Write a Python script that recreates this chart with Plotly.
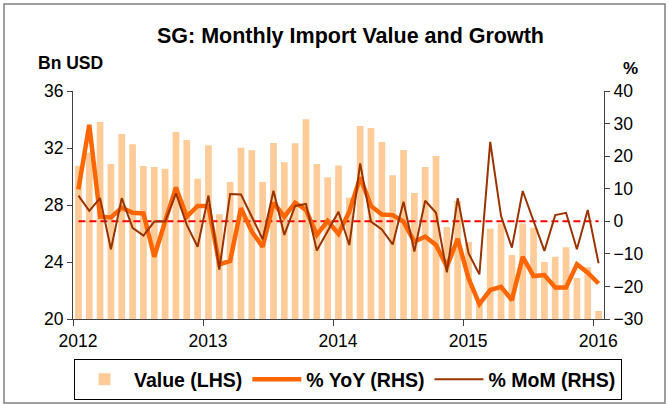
import plotly.graph_objects as go

# ---- data ----
year_labels = ["2012", "2013", "2014", "2015", "2016"]

values = [30.76, 31.67, 33.82, 30.88, 32.98, 32.26, 30.74, 30.67, 30.55, 33.12, 32.56, 29.85,
          32.19, 27.35, 29.61, 32.02, 31.84, 29.61, 32.35, 31.00, 32.33, 34.01, 30.88, 29.94,
          30.78, 28.51, 33.54, 33.40, 32.42, 30.08, 31.86, 28.84, 30.67, 31.44, 26.46, 28.28,
          25.40, 21.40, 26.34, 26.70, 24.49, 26.71, 26.41, 24.00, 24.37, 25.03, 22.88, 23.63,
          20.56]

yoy = [9.8, 29.6, 1.4, 1.2, 4.2, 2.6, 2.4, -10.9, 0.0, 10.4, 1.4, 4.7,
       4.7, -13.2, -12.2, 4.0, -3.2, -7.8, 5.7, 1.4, 5.7, 3.5, -4.2, 0.1,
       -3.9, 3.0, 13.5, 4.7, 2.1, 1.9, -0.1, -6.3, -4.7, -7.3, -13.9, -5.4,
       -17.5, -25.4, -21.1, -20.1, -24.2, -10.9, -16.8, -16.5, -20.3, -20.3, -13.2, -15.8,
       -19.1]

mom = [7.9, 3.2, 7.1, -8.6, 7.1, -2.0, -4.4, -0.1, -0.1, 8.6, -1.1, -7.8,
       7.9, -14.8, 8.4, 8.2, 1.4, -5.5, 9.4, -4.2, 4.7, 5.3, -9.0, -3.2,
       2.9, -7.3, 17.8, -0.1, -2.5, -7.1, 6.0, -9.3, 6.3, 2.6, -15.7, 7.1,
       -9.8, -16.3, 24.4, 1.6, -8.1, 9.3, 0.0, -9.1, 1.9, 2.6, -8.6, 3.5,
       -12.9]

n = len(values)
xpos = [i + 0.5 for i in range(n)]          # month centres
year_ticks = [12 * k for k in range(len(year_labels))]

FONT = "Liberation Sans, Arial, sans-serif"
AXIS_COL = "#404040"

fig = go.Figure()
fig.add_trace(go.Bar(x=xpos, y=values, name="Value (LHS)", width=0.62,
                     marker=dict(color="#FFCC99", line=dict(width=0))))
fig.add_trace(go.Scatter(x=[xpos[0], xpos[-1]], y=[0, 0], yaxis="y2", mode="lines",
                         line=dict(color="#FF0000", width=2, dash="7px,4px"),
                         showlegend=False, hoverinfo="skip"))
fig.add_trace(go.Scatter(x=xpos, y=yoy, yaxis="y2", mode="lines", name="% YoY (RHS)",
                         line=dict(color="#FF6600", width=4.5)))
fig.add_trace(go.Scatter(x=xpos, y=mom, yaxis="y2", mode="lines", name="% MoM (RHS)",
                         line=dict(color="#993300", width=2)))

tickfont = dict(family=FONT, size=17.5, color="black")

fig.update_layout(
    width=669, height=404, autosize=False,
    margin=dict(l=73, r=65, t=91, b=85, autoexpand=False),
    paper_bgcolor="white", plot_bgcolor="white",
    font=dict(family=FONT, color="black", size=17),
    title=dict(text="<b>SG: Monthly Import Value and Growth</b>",
               font=dict(family=FONT, size=21.5, color="black"),
               x=(350.5 - 73) / 531, xref="paper", xanchor="center",
               y=1 - 35 / 404, yref="container", yanchor="middle"),
    xaxis=dict(range=[0, n], tickvals=year_ticks, ticktext=year_labels,
               showline=True, linecolor=AXIS_COL, linewidth=1,
               ticks="outside", ticklen=6, tickcolor=AXIS_COL,
               ticklabelshift=5, showgrid=False, zeroline=False,
               automargin=False, tickfont=tickfont),
    yaxis=dict(range=[20, 36], tickvals=[20, 24, 28, 32, 36],
               showline=True, linecolor=AXIS_COL, linewidth=1,
               ticks="outside", ticklen=5, tickcolor=AXIS_COL,
               showgrid=False, zeroline=False, automargin=False,
               tickfont=tickfont),
    yaxis2=dict(range=[-30, 40], tickvals=[-30, -20, -10, 0, 10, 20, 30, 40],
                overlaying="y", side="right",
                showline=True, linecolor=AXIS_COL, linewidth=1,
                ticks="outside", ticklen=5, tickcolor=AXIS_COL,
                showgrid=False, zeroline=False, automargin=False,
                tickfont=tickfont),
    legend=dict(orientation="h", x=(622 - 73) / 531, xanchor="right",
                y=(319 - 359) / 228, yanchor="top",
                bordercolor="black", borderwidth=1, bgcolor="white",
                font=dict(family=FONT, size=19.5, color="black", weight="bold"),
                itemwidth=49, traceorder="normal"),
    annotations=[
        dict(text="<b>Bn USD</b>", xref="paper", yref="paper",
             x=(36 - 73) / 531, y=(319 - 63) / 228, xanchor="left", yanchor="middle",
             showarrow=False, font=dict(family=FONT, size=17.5, color="black")),
        dict(text="<b>%</b>", xref="paper", yref="paper",
             x=(621 - 73) / 531, y=(319 - 68) / 228, xanchor="left", yanchor="middle",
             showarrow=False, font=dict(family=FONT, size=17, color="black")),
    ],
    shapes=[
        dict(type="rect", xref="paper", yref="paper",
             x0=(4 - 73) / 531, x1=(665 - 73) / 531,
             y0=(319 - 403) / 228, y1=(319 - 4) / 228,
             line=dict(color="#808080", width=1.5), fillcolor="rgba(0,0,0,0)", layer="below"),
    ],
)

fig.write_html("out.html", config={"displayModeBar": False},
               post_script="document.body.style.margin='0px';")
